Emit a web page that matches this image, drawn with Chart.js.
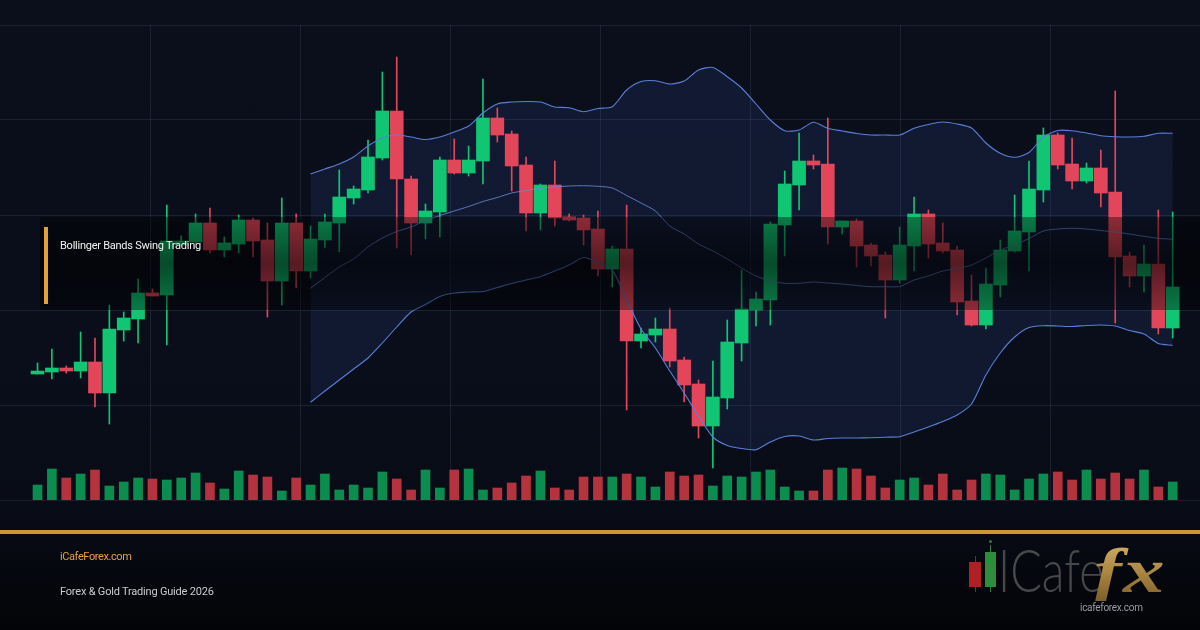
<!DOCTYPE html>
<html>
<head>
<meta charset="utf-8">
<script src="https://cdn.jsdelivr.net/npm/chart.js@4.4.1/dist/chart.umd.min.js"></script>
<style>
  html, body { margin: 0; padding: 0; }
  body {
    width: 1200px; height: 630px; overflow: hidden; position: relative;
    background: linear-gradient(180deg, #0b0f1c 0%, #0a0e1a 60%, #080b15 84%, #05070d 92%, #030407 100%);
    font-family: Roboto, "Noto Sans", sans-serif;
  }
  #chart { position: absolute; left: 0; top: 0; }
  .shade {
    position: absolute; left: 40px; top: 217px; width: 1160px; height: 93px;
    background: linear-gradient(180deg, rgba(0,0,0,0.38) 0%, rgba(0,0,0,0.62) 50%, rgba(0,0,0,0.38) 100%);
  }
  .accent { position: absolute; left: 44px; top: 227px; width: 4px; height: 77px; background: #e0a23a; }
  .title { position: absolute; left: 60px; top: 245px; transform: translateY(-50%);
    color: #f2f2f2; font-size: 11px; letter-spacing: -0.25px; line-height: 1; white-space: nowrap; }
  .rule { position: absolute; left: 0; top: 530px; width: 1200px; height: 4px; background: #d0952f; }
  .site { position: absolute; left: 60px; top: 556px; transform: translateY(-50%);
    color: #e6a23d; font-size: 11px; letter-spacing: -0.4px; line-height: 1; }
  .guide { position: absolute; left: 60px; top: 591px; transform: translateY(-50%);
    color: #c9cbd0; font-size: 11px; letter-spacing: -0.2px; line-height: 1; white-space: nowrap; }
  .logo-wick { position: absolute; width: 1px; }
  .logo-body { position: absolute; }
  .logo-word { position: absolute; left: 998px; top: 539px; font-family: Lato, Roboto, sans-serif;
    font-weight: 300; font-size: 60px; line-height: 60px; color: #48484b;
    transform: scaleX(0.78); transform-origin: left top; white-space: nowrap; }
  .logo-fx { position: absolute; left: 1094px; top: 541px; font-family: "Liberation Serif", "DejaVu Serif", serif;
    font-style: italic; font-weight: bold; font-size: 64px; line-height: 60px; letter-spacing: 1px;
    transform: scaleX(1.3); transform-origin: left top;
    background: linear-gradient(180deg, #d2b06a 0%, #a8843f 55%, #7d5f2a 100%);
    -webkit-background-clip: text; background-clip: text; color: transparent; white-space: nowrap; }
  .logo-url { position: absolute; left: 1080px; top: 608px; transform: translateY(-50%);
    color: #9a9ba0; font-size: 10px; letter-spacing: -0.3px; line-height: 1; }
</style>
</head>
<body>
<canvas id="chart" width="1200" height="630"></canvas>
<div class="shade"></div>
<div class="accent"></div>
<div class="title">Bollinger Bands Swing Trading</div>
<div class="rule"></div>
<div class="site">iCafeForex.com</div>
<div class="guide">Forex &amp; Gold Trading Guide 2026</div>

<div class="logo-wick" style="left:975px; top:556px; height:36px; background:#9a1c20;"></div>
<div class="logo-body" style="left:969px; top:562px; width:12px; height:25px; background:#b01f24;"></div>
<div class="logo-wick" style="left:990px; top:545px; height:47px; background:#2b7f37;"></div>
<div class="logo-body" style="left:989px; top:540px; width:3px; height:3px; border-radius:2px; background:#2b7f37;"></div>
<div class="logo-body" style="left:985px; top:552px; width:11px; height:35px; background:#2e8c3c;"></div>
<div class="logo-word">ICafe</div>
<div class="logo-fx">fx</div>
<div class="logo-url">icafeforex.com</div>

<script>
  // candles, oldest first
  const opens = [
    2026, 2028, 2032, 2029, 2038, 2007, 2070, 2081, 2107, 2105,
    2155, 2158, 2177, 2150, 2156, 2180, 2160, 2119, 2177, 2129,
    2160, 2177, 2202, 2210, 2242, 2289, 2221, 2177, 2188, 2240,
    2227, 2239, 2282, 2266, 2235, 2187, 2215, 2183, 2182, 2171,
    2131, 2151, 2059, 2065, 2071, 2040, 2016, 1974, 2002, 2057,
    2090, 2100, 2175, 2215, 2239, 2236, 2173, 2179, 2155, 2145,
    2120, 2154, 2186, 2157, 2150, 2099, 2075, 2115, 2149, 2168,
    2210, 2265, 2236, 2219, 2232, 2208, 2144, 2124, 2136, 2072,
  ];
  const highs = [
    2037, 2051, 2034, 2068, 2062, 2095, 2088, 2121, 2111, 2195,
    2164, 2186, 2192, 2163, 2185, 2182, 2177, 2202, 2186, 2174,
    2186, 2230, 2214, 2260, 2328, 2343, 2224, 2196, 2243, 2261,
    2254, 2321, 2292, 2269, 2243, 2216, 2239, 2186, 2185, 2189,
    2154, 2195, 2072, 2082, 2092, 2043, 2020, 2039, 2080, 2130,
    2108, 2178, 2229, 2267, 2245, 2282, 2179, 2181, 2157, 2148,
    2173, 2203, 2190, 2177, 2154, 2125, 2132, 2160, 2205, 2239,
    2272, 2267, 2262, 2237, 2250, 2309, 2148, 2155, 2190, 2188,
  ];
  const lows = [
    2026, 2021, 2027, 2022, 1993, 1976, 2059, 2057, 2104, 2055,
    2154, 2156, 2147, 2143, 2147, 2143, 2083, 2095, 2112, 2122,
    2152, 2148, 2196, 2207, 2240, 2152, 2145, 2161, 2163, 2226,
    2224, 2216, 2258, 2209, 2169, 2170, 2174, 2179, 2155, 2124,
    2113, 1990, 2052, 2058, 2033, 1998, 1962, 1932, 1991, 2039,
    2074, 2075, 2144, 2190, 2231, 2156, 2166, 2133, 2134, 2082,
    2117, 2129, 2142, 2147, 2085, 2074, 2071, 2103, 2148, 2129,
    2198, 2231, 2211, 2217, 2193, 2077, 2113, 2108, 2066, 2062,
  ];
  const closes = [
    2029, 2032, 2029, 2038, 2007, 2071, 2082, 2107, 2104, 2159,
    2159, 2177, 2150, 2157, 2180, 2159, 2119, 2177, 2129, 2161,
    2178, 2203, 2211, 2243, 2289, 2221, 2177, 2189, 2240, 2227,
    2240, 2282, 2265, 2234, 2187, 2215, 2182, 2180, 2170, 2131,
    2151, 2059, 2066, 2071, 2039, 2015, 1974, 2003, 2058, 2091,
    2101, 2176, 2216, 2239, 2235, 2173, 2179, 2154, 2144, 2120,
    2155, 2186, 2156, 2149, 2098, 2075, 2116, 2150, 2169, 2211,
    2265, 2235, 2219, 2232, 2207, 2143, 2124, 2136, 2072, 2113,
  ];
  const volumes = [
    15, 31, 22, 26, 30, 14, 18, 22, 21, 20,
    22, 27, 17, 11, 29, 25, 23, 9, 22, 15,
    26, 10, 15, 12, 28, 21, 10, 30, 12, 30,
    31, 10, 12, 17, 24, 29, 12, 10, 23, 23,
    23, 26, 23, 13, 28, 24, 25, 14, 24, 23,
    28, 30, 13, 9, 9, 30, 32, 31, 24, 12,
    20, 22, 15, 26, 10, 20, 26, 25, 10, 21,
    26, 28, 20, 30, 21, 27, 21, 30, 13, 18,
  ];

  // bollinger bands start at candle 19
  const bandStart = 19;
  const upperBand = [
    2226, 2231, 2236, 2243, 2254, 2262, 2265, 2263, 2260.5, 2263,
    2268, 2274, 2287, 2296, 2298, 2298.5, 2298, 2293, 2292.3, 2288.3,
    2291.5, 2293.3, 2310, 2318.5, 2319.3, 2316, 2319, 2330, 2332.5, 2323.3,
    2312, 2296, 2280, 2269.3, 2270, 2277.7, 2271.7, 2269, 2266.5, 2265,
    2265, 2265, 2271.7, 2275.5, 2278, 2276, 2272, 2257, 2246.7, 2242.7,
    2247.5, 2263, 2269.5, 2269.3, 2267, 2264.3, 2263.3, 2263, 2263.7, 2266.7,
    2266.7,
  ];
  const middleBand = [
    2111.7, 2122.5, 2133, 2141, 2153, 2162, 2168.5, 2173, 2179.5, 2184.5,
    2189, 2193.5, 2198.5, 2202.5, 2207, 2209.5, 2211.7, 2213, 2214, 2214.3,
    2213.7, 2212, 2204.5, 2197, 2189, 2174, 2166, 2156, 2149, 2141,
    2132, 2124, 2119, 2116.7, 2116.7, 2118, 2117, 2116, 2114.5, 2113.3,
    2113.3, 2113.5, 2120, 2124, 2129, 2131.5, 2135, 2142, 2150, 2155,
    2161.5, 2169, 2171, 2171.7, 2171, 2169.5, 2168, 2166, 2163.7, 2161.7,
    2160.7,
  ];
  const lowerBand = [
    1997.7, 2009, 2020, 2031, 2042, 2057, 2073, 2088, 2095.5, 2103.5,
    2107, 2108, 2108.5, 2112.5, 2116.5, 2120, 2123.3, 2129, 2135, 2142.5,
    2137.5, 2130, 2100, 2071, 2052, 2029, 2007, 1984, 1963, 1954.5,
    1951.5, 1950.3, 1958, 1963.5, 1964, 1960, 1961.5, 1962, 1962, 1962.3,
    1962.8, 1963.3, 1968, 1973, 1978.5, 1985, 1996, 2025, 2047, 2063,
    2072.5, 2074.3, 2074, 2073.5, 2074.5, 2075, 2074, 2069.5, 2066, 2056.5,
    2054.7,
  ];

  const colors = {
    up: "#10c672",
    down: "#e3465a",
    volUp: "#0b8d4f",
    volDown: "#b5323f",
    band: "#5a7fd8",
    middle: "rgba(105, 135, 210, 0.85)",
    fill: "rgba(52, 82, 165, 0.17)",
    grid: "rgba(150, 170, 210, 0.12)",
  };

  const isUp = (i) => closes[i] >= opens[i];
  const bandPoints = (values) => values.map((v, k) => ({ x: k + bandStart, y: v }));

  // no grid line on the left/right canvas edges
  function innerGrid(context) {
    const v = context.tick.value;
    return v === 0 || v === 8 ? "rgba(0,0,0,0)" : colors.grid;
  }

  const lineStyle = {
    type: "line",
    pointRadius: 0,
    borderWidth: 1.1,
    tension: 0.25,
    xAxisID: "x",
    yAxisID: "y",
    order: 0,
  };

  new Chart(document.getElementById("chart"), {
    type: "bar",
    data: {
      datasets: [
        {
          ...lineStyle,
          label: "Upper band",
          data: bandPoints(upperBand),
          borderColor: colors.band,
          backgroundColor: colors.fill,
          fill: "+2",
        },
        {
          ...lineStyle,
          label: "Middle band",
          data: bandPoints(middleBand),
          borderColor: colors.middle,
          borderWidth: 1,
          fill: false,
        },
        {
          ...lineStyle,
          label: "Lower band",
          data: bandPoints(lowerBand),
          borderColor: colors.band,
          fill: false,
        },
        {
          label: "Body",
          data: opens.map((o, i) => ({ x: i, y: [o, closes[i]] })),
          backgroundColor: opens.map((_, i) => (isUp(i) ? colors.up : colors.down)),
          barThickness: 13,
          minBarLength: 2,
          grouped: false,
          xAxisID: "x",
          yAxisID: "y",
          order: 1,
        },
        {
          label: "Wick",
          data: lows.map((l, i) => ({ x: i, y: [l, highs[i]] })),
          backgroundColor: lows.map((_, i) => (isUp(i) ? colors.up : colors.down)),
          barThickness: 1,
          grouped: false,
          xAxisID: "x",
          yAxisID: "y",
          order: 2,
        },
        {
          label: "Volume",
          data: volumes.map((v, i) => ({ x: i, y: v })),
          backgroundColor: volumes.map((_, i) => (isUp(i) ? colors.volUp : colors.volDown)),
          barThickness: 9,
          grouped: false,
          xAxisID: "x",
          yAxisID: "yVol",
          order: 3,
        },
      ],
    },
    options: {
      responsive: false,
      animation: false,
      devicePixelRatio: 1,
      layout: { padding: { top: 25, bottom: 130, left: 0, right: 0 } },
      plugins: {
        legend: { display: false },
        tooltip: { enabled: false },
        filler: { drawTime: "beforeDatasetsDraw" },
      },
      scales: {
        x: {
          type: "linear",
          min: -2.61,
          max: 80.9,
          offset: false,
          display: false,
        },
        xGrid: {
          type: "linear",
          axis: "x",
          position: "bottom",
          min: 0,
          max: 8,
          offset: false,
          ticks: { display: false, stepSize: 1 },
          grid: { color: innerGrid, drawTicks: false, offset: false },
          border: { display: false },
        },
        y: {
          type: "linear",
          min: 1900,
          max: 2375,
          ticks: { display: false, stepSize: 95 },
          grid: { color: colors.grid, drawTicks: false },
          border: { display: false },
        },
        yVol: {
          type: "linear",
          axis: "y",
          min: 0,
          max: 475,
          display: false,
        },
      },
    },
  });
</script>
</body>
</html>
